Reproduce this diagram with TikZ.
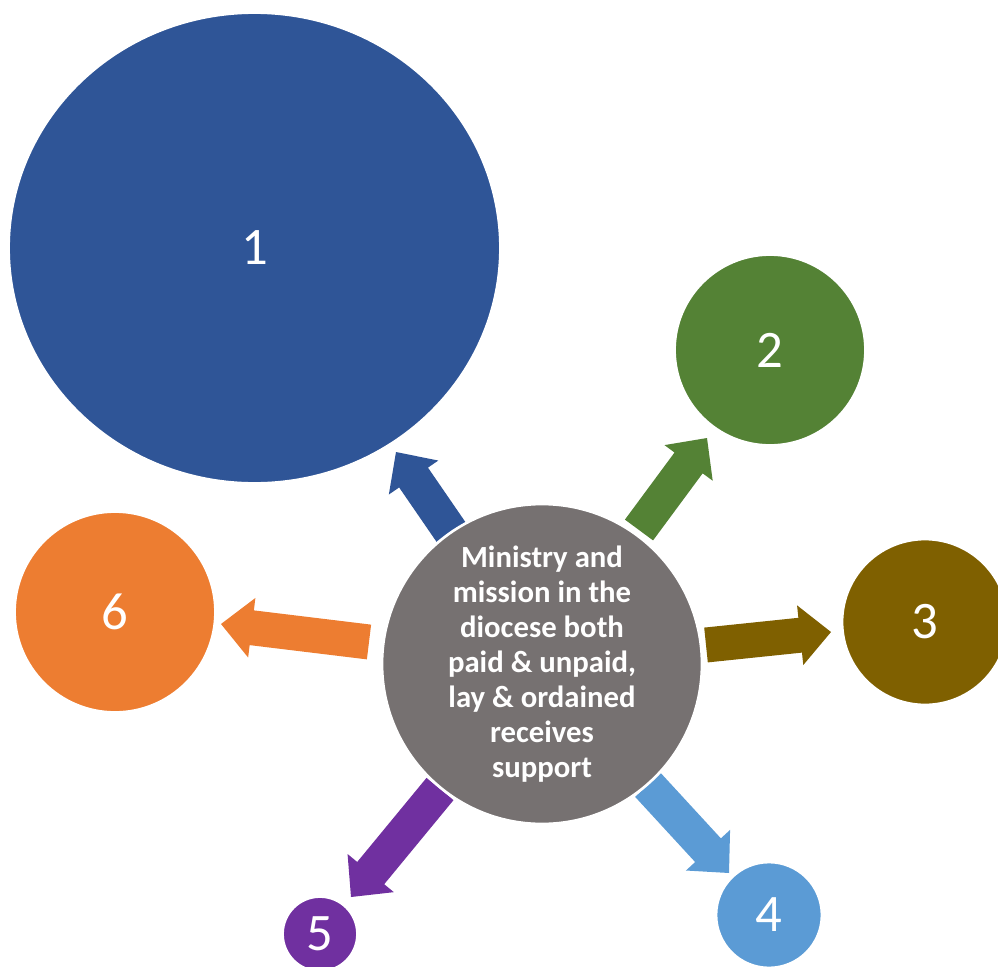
\documentclass[tikz,border=0pt]{standalone}
\usepackage{fontspec}
\setmainfont{Carlito}
\usetikzlibrary{calc,shapes.geometric}

\definecolor{cblue}{HTML}{2F5597}
\definecolor{cgreen}{HTML}{548235}
\definecolor{cbrown}{HTML}{7F6000}
\definecolor{clight}{HTML}{5B9BD5}
\definecolor{cpurple}{HTML}{7030A0}
\definecolor{corange}{HTML}{ED7D31}
\definecolor{cgrey}{HTML}{767171}

\begin{document}
\begin{tikzpicture}[x=0.02cm,y=-0.02cm,
		bubble/.style={circle,inner sep=0pt,draw=white,line width=1pt,text=white,
			font=\fontsize{30}{36}\selectfont}]
		
		\useasboundingbox (0,0) rectangle (998,967);
		
		% A block arrow from tail (#1) to tip (#2), colour #3
		\newcommand{\blockarrow}[3]{%
			\coordinate (#1h) at ($(#2)!0.62cm!(#1)$);
			\fill[#3] ($(#1)!0.35cm!90:(#2)$) -- ($(#1h)!0.35cm!-90:(#1)$)
			-- ($(#1h)!0.6cm!-90:(#1)$) -- (#2)
			-- ($(#1h)!0.6cm!90:(#1)$) -- ($(#1h)!0.35cm!90:(#1)$)
			-- ($(#1)!0.35cm!-90:(#2)$) -- cycle;
		}
		
		% Ends of the arrows
		\coordinate (t1) at (451,532); \coordinate (p1) at (396,452);
		\coordinate (t2) at (639,530); \coordinate (p2) at (707,438);
		\coordinate (t3) at (706,645); \coordinate (p3) at (831,632);
		\coordinate (t4) at (648,785); \coordinate (p4) at (729,873);
		\coordinate (t5) at (440,789); \coordinate (p5) at (351,897);
		\coordinate (t6) at (369,642); \coordinate (p6) at (221,624);
		
		\blockarrow{t1}{p1}{cblue}
		\blockarrow{t2}{p2}{cgreen}
		\blockarrow{t3}{p3}{cbrown}
		\blockarrow{t4}{p4}{clight}
		\blockarrow{t5}{p5}{cpurple}
		\blockarrow{t6}{p6}{corange}
		
		% The six outer circles
		\node[bubble,ellipse,fill=cblue,minimum width=9.82cm,minimum height=9.4cm] (s1) at (254.5,248) {1};
		\node[bubble,fill=cgreen,minimum size=3.8cm] (s2) at (770,350) {2};
		\node[bubble,fill=cbrown,minimum size=3.3cm] (s3) at (925,622) {3};
		\node[bubble,fill=clight,minimum size=2.1cm] (s4) at (769,915) {4};
		\node[bubble,fill=cpurple,minimum size=1.48cm] (s5) at (320,934) {5};
		\node[bubble,fill=corange,minimum size=4cm] (s6) at (115,612) {6};
		
		% Centre
		\node[bubble,fill=cgrey,minimum size=6.4cm,line width=1.5pt,align=center,
			font=\bfseries\fontsize{17.5}{19.9}\selectfont] (mid) at (542,664)
			{Ministry and\\ mission in the\\ diocese both\\ paid \& unpaid,\\ lay \& ordained\\ receives\\ support};
		
	\end{tikzpicture}
\end{document}
